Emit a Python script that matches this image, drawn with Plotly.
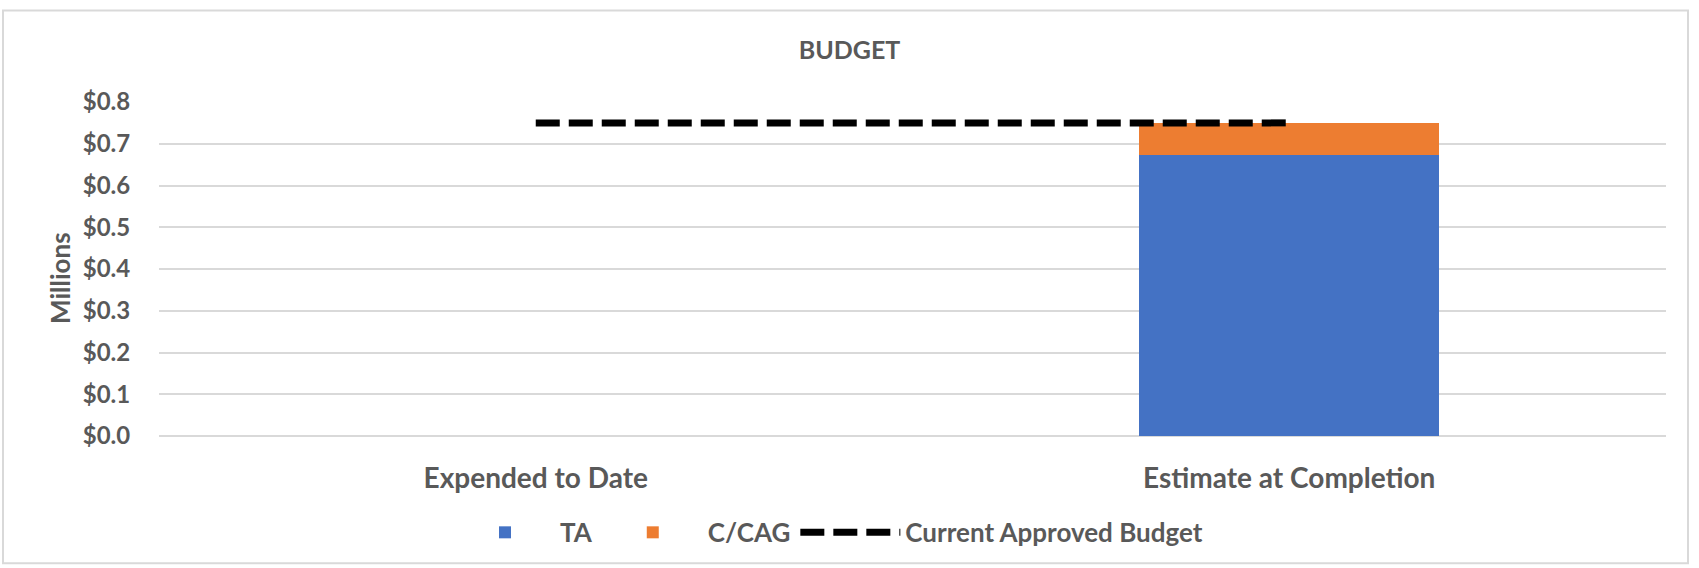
import plotly.graph_objects as go

categories = ["Expended to Date", "Estimate at Completion"]
ta_values = [0.0, 0.674]
ccag_values = [0.0, 0.076]
approved_budget = [0.75, 0.75]
title_text = "BUDGET"
y_title = "Millions"

W, H = 1699, 568
ML, MR, MT, MB = 159, 33, 102, 130
TXT = "#595959"
FONT = "Lato"

fig = go.Figure()
fig.add_trace(go.Bar(name="<b>TA</b>", x=categories, y=ta_values, marker_color="#4472C4",
                     marker_line_width=0))
fig.add_trace(go.Bar(name="<b>C/CAG</b>", x=categories, y=ccag_values, marker_color="#ED7D31",
                     marker_line_width=0))
fig.add_trace(go.Scatter(name="<b>Current Approved Budget</b>", x=categories, y=approved_budget,
                         mode="lines", line=dict(color="black", width=7, dash="24px,9px")))

pw = W - ML - MR
ph = H - MT - MB

fig.update_layout(
    width=W, height=H,
    margin=dict(l=ML, r=MR, t=MT, b=MB),
    barmode="stack", bargap=0.602,
    plot_bgcolor="white", paper_bgcolor="white",
    font=dict(family=FONT, color=TXT, size=22),
    title=dict(text="<b>" + title_text + "</b>", x=0.5, xanchor="center",
               y=1 - 50 / H, yanchor="middle", yref="container",
               font=dict(size=25, color=TXT, family=FONT)),
    showlegend=True,
    legend=dict(orientation="h", x=(450 - ML) / pw, xanchor="left", y=(438 - 535) / ph,
                yanchor="middle", traceorder="normal",
                font=dict(size=26, color=TXT, family=FONT), itemwidth=100),
    xaxis=dict(showgrid=False, showline=False, zeroline=False,
               ticks="outside", ticklen=17, tickcolor="rgba(0,0,0,0)",
               tickprefix="<b>", ticksuffix="</b>",
               tickfont=dict(size=28, color=TXT, family=FONT)),
    yaxis=dict(range=[0, 0.8], dtick=0.1, tick0=0, tickprefix="<b>$", ticksuffix="</b>",
               tickformat=".1f",
               showgrid=True, gridcolor="#D9D9D9", gridwidth=2,
               zeroline=True, zerolinecolor="#D9D9D9", zerolinewidth=2,
               showline=False, ticks="outside", ticklen=23, tickcolor="rgba(0,0,0,0)",
               tickfont=dict(size=24, color=TXT, family=FONT)),
)

fig.add_annotation(text="<b>" + y_title + "</b>", textangle=-90, showarrow=False,
                   xref="paper", yref="paper", x=(60 - ML) / pw, y=(438 - 279) / ph,
                   xanchor="center", yanchor="middle",
                   font=dict(size=26, color=TXT, family=FONT))

# chart border
fig.add_shape(type="rect", xref="paper", yref="paper",
              x0=(3 - ML) / pw, x1=(1688 - ML) / pw,
              y0=(H - MB - 566) / ph, y1=(H - MB - 10) / ph,
              line=dict(color="#D9D9D9", width=2), fillcolor="rgba(0,0,0,0)", layer="below")

fig.write_html("out.html", config={"displayModeBar": False},
               post_script="document.body.style.margin='0';")
